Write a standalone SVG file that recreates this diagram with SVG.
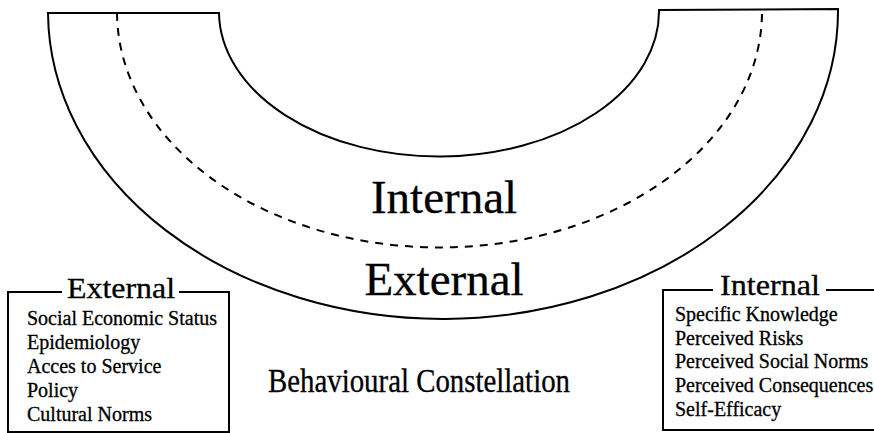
<svg xmlns="http://www.w3.org/2000/svg" width="874" height="433" viewBox="0 0 874 433">
  <style>
    .line { fill: none; stroke: #000; stroke-width: 2; stroke-linejoin: miter; }
    .dash { fill: none; stroke: #000; stroke-width: 2; stroke-dasharray: 8 7; }
    .t { font-family: "Liberation Serif", "Times New Roman", serif; fill: #000; stroke: #000; stroke-width: 0.3; }
    .big { font-size: 47px; text-anchor: middle; }
    .head { font-size: 30px; }
    .item { font-size: 20px; }
    .title { font-size: 33px; }
  </style>
  <rect width="874" height="433" fill="#fff"/>
  <g id="arch">
    <path class="line" d="M48,13 L219,13 A218,143.7 0 0 0 659,10 L838,9 A391,304.9 0 0 1 48,13 Z"/>
    <path class="dash" d="M117,13 A319,233.4 0 0 0 762,10"/>
    <text class="t big" x="444" y="213">Internal</text>
    <text class="t big" x="444" y="295">External</text>
  </g>
  <g id="external-box">
    <path class="line" d="M62,292 L8,292 L8,432 L229,432 L229,292 L179,292"/>
    <text class="t head" x="67" y="298" textLength="108" lengthAdjust="spacingAndGlyphs">External</text>
    <text class="t item" x="27" y="325">Social Economic Status</text>
    <text class="t item" x="27" y="349">Epidemiology</text>
    <text class="t item" x="27" y="373">Acces to Service</text>
    <text class="t item" x="27" y="397">Policy</text>
    <text class="t item" x="27" y="421">Cultural Norms</text>
  </g>
  <g id="internal-box">
    <path class="line" d="M713,290 L663,290 L663,430 L874,430"/>
    <path class="line" d="M826,290 L874,290"/>
    <text class="t head" x="720" y="295" textLength="100" lengthAdjust="spacingAndGlyphs">Internal</text>
    <text class="t item" x="675" y="321">Specific Knowledge</text>
    <text class="t item" x="675" y="345">Perceived Risks</text>
    <text class="t item" x="675" y="368">Perceived Social Norms</text>
    <text class="t item" x="675" y="392">Perceived Consequences</text>
    <text class="t item" x="675" y="416">Self-Efficacy</text>
  </g>
  <g id="caption">
    <text class="t title" x="268" y="392" textLength="302" lengthAdjust="spacingAndGlyphs">Behavioural Constellation</text>
  </g>
  <g id="connectors"></g>
</svg>
